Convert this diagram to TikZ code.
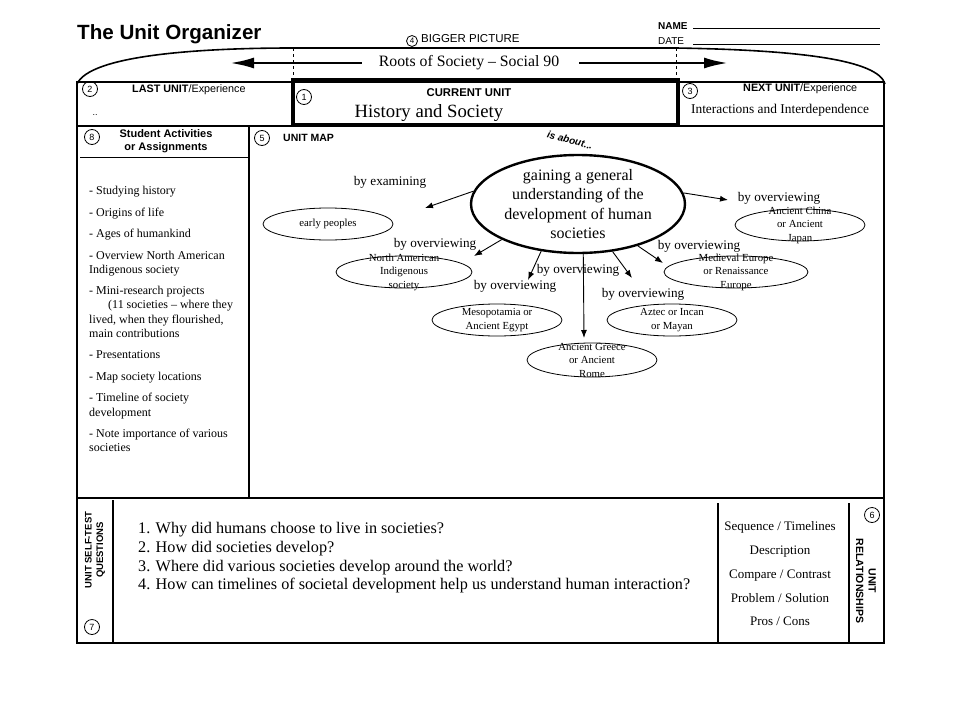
\documentclass[tikz,border=0pt]{standalone}
\usepackage{fontspec}
\setmainfont{Liberation Serif}
\setsansfont{Liberation Sans}
\usetikzlibrary{shapes.geometric,arrows.meta}

\tikzset{
  num/.style={shape=circle, draw=black, line width=0.8pt, minimum size=15pt, inner sep=0pt, font=\sffamily\fontsize{9}{9}\selectfont},
  hdr/.style={inner sep=0pt, font=\sffamily\bfseries\fontsize{10.5}{12}\selectfont},
  plain/.style={inner sep=0pt, font=\sffamily\fontsize{10.8}{12}\selectfont},
  topic/.style={shape=ellipse, draw=black, line width=0.8pt, inner sep=0pt, minimum width=130, minimum height=32},
  topictxt/.style={inner sep=0pt, align=center, font=\fontsize{10.8}{13.5}\selectfont},
  by/.style={inner sep=0pt, font=\fontsize{13.2}{15}\selectfont},
  maparrow/.style={-{Latex[length=8pt,width=6pt]}, line width=0.9pt},
  bigarrow/.style={-{Latex[length=24pt,width=11pt]}, line width=2.6pt},
  frame/.style={line width=1.6pt},
}

\begin{document}
\begin{tikzpicture}[x=1pt, y=-1pt]
\useasboundingbox (0,0) rectangle (960,720);

% heading
\node[anchor=west, inner sep=0pt, font=\sffamily\bfseries\fontsize{20.6}{22}\selectfont] (title) at (77,34) {The Unit Organizer};
\node[num, minimum size=11pt, font=\sffamily\fontsize{8}{8}\selectfont] (n4) at (412,41) {4};
\node[plain, anchor=west, font=\sffamily\fontsize{11.5}{12}\selectfont] (bigger) at (421,39) {BIGGER PICTURE};
\node[plain, anchor=west, font=\sffamily\bfseries\fontsize{10}{12}\selectfont] (name) at (658,26) {NAME};
\node[plain, anchor=west, font=\sffamily\fontsize{10}{12}\selectfont] (date) at (658,41) {DATE};
\draw[line width=0.8pt] (693,28) -- (880,28);
\draw[line width=0.8pt] (693,44) -- (880,44);

% bigger picture
\draw[frame] (77,84) .. controls (90,55) and (200,48) .. (293,48) -- (676,48) .. controls (800,50) and (878,60) .. (885,84);
\draw[dashed, line width=0.6pt] (293,48) -- (293,80);
\draw[dashed, line width=0.6pt] (676,48) -- (676,80);
\node[inner sep=0pt, font=\fontsize{15.8}{17}\selectfont] (roots) at (469,63) {Roots of Society -- Social 90};
\coordinate (past) at (230,63);
\coordinate (future) at (728,63);
\draw[bigarrow] ([xshift=-17pt]roots.west) -- (past);
\draw[bigarrow] ([xshift=20pt]roots.east) -- (future);

% form lines
\draw[frame] (77,82) rectangle (884,643);
\draw[frame] (77,126) -- (884,126);
\draw[frame] (249,126) -- (249,498);
\draw[line width=1pt] (80,157) -- (249,157);
\draw[frame] (77,498) -- (884,498);
\draw[line width=1.2pt] (113,500) -- (113,643);
\draw[frame] (718,503) -- (718,643);
\draw[frame] (849,503) -- (849,643);
\draw[line width=4pt] (293,80) rectangle (678,125);

% units
\node[num] (n2) at (90,89) {2};
\node[plain, anchor=west] (last) at (132,90) {\textbf{LAST UNIT}/Experience};
\node[plain, font=\sffamily\fontsize{9}{9}\selectfont] (lastname) at (95,115) {..};
\node[num] (n1) at (304,97) {1};
\node[hdr, font=\sffamily\bfseries\fontsize{11.3}{12}\selectfont] (current) at (469,93) {CURRENT UNIT};
\node[inner sep=0pt, font=\fontsize{18.7}{20}\selectfont] (curname) at (429,113) {History and Society};
\node[num] (n3) at (690,91) {3};
\node[plain, anchor=west] (next) at (743,89) {\textbf{NEXT UNIT}/Experience};
\node[inner sep=0pt, font=\fontsize{13.4}{14}\selectfont] (nextname) at (780,110) {Interactions and Interdependence};

% activities
\node[num] (n8) at (92,137) {8};
\node[hdr, align=center, font=\sffamily\bfseries\fontsize{11}{13}\selectfont] (acts) at (166,141) {Student Activities\\or Assignments};
\node[anchor=north west, inner sep=0pt, align=left, font=\fontsize{12}{14.2}\selectfont] (actlist) at (89,186) {%
- Studying history\\[7.3pt]
- Origins of life\\[7.3pt]
- Ages of humankind\\[7.3pt]
- Overview North American\\
Indigenous society\\[7.3pt]
- Mini-research projects\\
\hspace*{19pt}(11 societies -- where they\\
lived, when they flourished,\\
main contributions\\[7.3pt]
- Presentations\\[7.3pt]
- Map society locations\\[7.3pt]
- Timeline of society\\
development\\[7.3pt]
- Note importance of various\\
societies};

% unit map
\node[num] (n5) at (262,138) {5};
\node[hdr, anchor=west] (map) at (283,138) {UNIT MAP};
\node[rotate=-15, inner sep=0pt, font=\sffamily\bfseries\itshape\fontsize{10}{12}\selectfont] (about) at (570,140) {is about...};
\node[topic, line width=2.4pt, minimum width=214, minimum height=98,
  label={[inner sep=0pt, align=center, font=\fontsize{16}{19.5}\selectfont]center:{gaining a general\\understanding of the\\development of human\\societies}}] (gain) at (578,204) {};

\node[topic, label={[topictxt]center:early peoples}] (early) at (328,224) {};
\node[topic, minimum width=136, label={[topictxt]center:{North American\\Indigenous\\society}}] (namer) at (404,272) {};
\node[topic, label={[topictxt]center:{Mesopotamia or\\Ancient Egypt}}] (meso) at (497,320) {};
\node[topic, minimum height=34, label={[topictxt]center:{Ancient Greece\\or Ancient\\Rome}}] (greece) at (592,360) {};
\node[topic, label={[topictxt]center:{Aztec or Incan\\or Mayan}}] (aztec) at (672,320) {};
\node[topic, minimum width=144, label={[topictxt]center:{Medieval Europe\\or Renaissance\\Europe}}] (medieval) at (736,272) {};
\node[topic, label={[topictxt]center:{Ancient China\\or Ancient\\Japan}}] (china) at (800,225) {};

\coordinate (to-early) at (425,208);
\coordinate (to-namer) at (474,256);
\coordinate (to-meso) at (528,280);
\coordinate (to-greece) at (584,338);
\coordinate (to-aztec) at (632,278);
\coordinate (to-medieval) at (663,263);
\coordinate (to-china) at (728,200);

\draw[maparrow] (gain.173) -- (to-early);
\draw[maparrow] (gain.205) -- (to-namer);
\draw[maparrow] (gain.232) -- (to-meso);
\draw[maparrow] (gain.276) -- (to-greece);
\draw[maparrow] (gain.306) -- (to-aztec);
\draw[maparrow] (gain.325) -- (to-medieval);
\draw[maparrow] (gain.6) -- (to-china);

\node[by] (by-early) at (390,182) {by examining};
\node[by] (by-namer) at (435,244) {by overviewing};
\node[by] (by-meso) at (515,286) {by overviewing};
\node[by] (by-greece) at (578,270) {by overviewing};
\node[by] (by-aztec) at (643,294) {by overviewing};
\node[by] (by-medieval) at (699,246) {by overviewing};
\node[by] (by-china) at (779,198) {by overviewing};

% self-test questions
\node[rotate=90, align=center, inner sep=0pt, font=\sffamily\bfseries\fontsize{9.5}{11.5}\selectfont] (selftest) at (95,550) {UNIT SELF-TEST\\QUESTIONS};
\node[num] (n7) at (92,627) {7};
\node[anchor=north west, inner sep=0pt, align=left, font=\fontsize{16.2}{18.8}\selectfont] (questions) at (138,522) {%
1. Why did humans choose to live in societies?\\
2. How did societies develop?\\
3. Where did various societies develop around the world?\\
4. How can timelines of societal development help us understand human interaction?};

% relationships
\node[align=center, inner sep=0pt, font=\fontsize{13}{23.75}\selectfont] (kinds) at (780,574) {Sequence / Timelines\\Description\\Compare / Contrast\\Problem / Solution\\Pros / Cons};
\node[rotate=-90, align=center, inner sep=0pt, font=\sffamily\bfseries\fontsize{10.5}{12.5}\selectfont] (rel) at (866,581) {UNIT\\RELATIONSHIPS};
\node[num] (n6) at (872,515) {6};
\end{tikzpicture}
\end{document}
